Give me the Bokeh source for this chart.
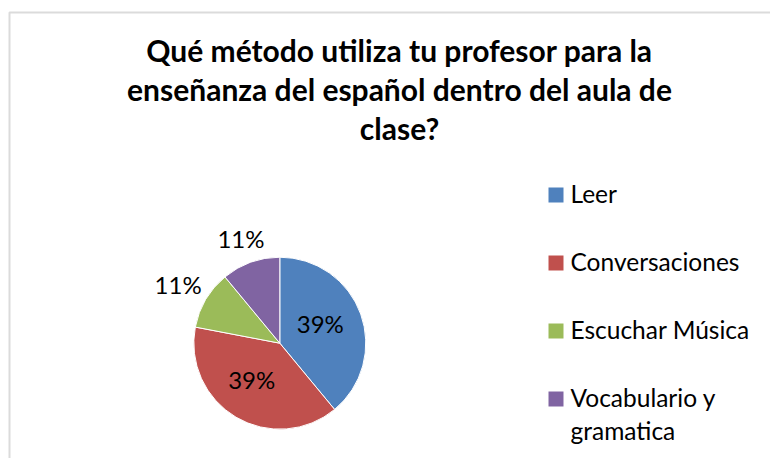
import math
import textwrap
from bokeh.plotting import figure
from bokeh.models import Range1d, BoxAnnotation, ColumnDataSource
from bokeh.core.properties import value
from bokeh.embed import file_html
from bokeh.resources import INLINE

TITLE_LINES = ["Qué método utiliza tu profesor para la",
               "enseñanza del español dentro del aula de",
               "clase?"]
CATEGORIES = ["Leer", "Conversaciones", "Escuchar Música", "Vocabulario y gramatica"]
PERCENTS = [39, 39, 11, 11]
COLORS = ["#4F81BD", "#C0504D", "#9BBB59", "#8064A2"]

FONT = "Lato"
W, H = 770, 458


def Y(yd):
    return H - yd


p = figure(width=W, height=H, x_range=Range1d(0, W), y_range=Range1d(0, H),
           x_axis_type=None, y_axis_type=None, toolbar_location=None,
           output_backend="svg", min_border=0)
p.outline_line_color = None
p.background_fill_color = "white"
p.border_fill_color = "white"

# chart frame (only left and top edges fall inside the picture)
p.add_layout(BoxAnnotation(left=9, right=W + 30, top=Y(12), bottom=-30,
                           fill_alpha=0, line_color="#878787", line_width=2))

# title
p.text(x=[399] * len(TITLE_LINES), y=[Y(49.1 + 39.3 * i) for i in range(len(TITLE_LINES))],
       text=TITLE_LINES, text_font=value(FONT), text_font_style="bold",
       text_font_size="30px", text_align="center", text_baseline="middle",
       text_color="black")

# pie
cx, cy, r = 279.3, Y(342.7), 86
total = float(sum(PERCENTS))
starts, ends, mids = [], [], []
acc = 0.0
for v in PERCENTS:
    a0 = acc / total * 2 * math.pi
    acc += v
    a1 = acc / total * 2 * math.pi
    starts.append(math.pi / 2 - a1)
    ends.append(math.pi / 2 - a0)
    mids.append((a0 + a1) / 2)

src = ColumnDataSource(dict(start=starts, end=ends, color=COLORS, cat=CATEGORIES))
p.wedge(x=cx, y=cy, radius=r, start_angle="start", end_angle="end",
        fill_color="color", line_color="white", line_width=1, source=src)

lx, ly, lt = [], [], []
LW, LH = 45, 18
for v, m in zip(PERCENTS, mids):
    ux, uy = math.sin(m), math.cos(m)
    if v / total >= 0.15:
        d = 0.55 * r
        lx.append(cx + ux * d - 4)
        ly.append(cy + uy * d + 4)
    else:
        d = r + 12
        lx.append(cx + ux * (d + LW / 2) + 2)
        ly.append(cy + uy * (d + LH / 2) + 4)
    lt.append(f"{v}%")
p.text(x=lx, y=ly, text=lt, text_font=value(FONT), text_font_size="24px",
       text_align="center", text_baseline="middle", text_color="black")

# legend
leg_y = [Y(194.5 + 68 * i) for i in range(len(CATEGORIES))]
p.scatter(x=[555.5] * len(CATEGORIES), y=leg_y, marker="square", size=15,
          fill_color=COLORS, line_color=None)
tx, ty, tt = [], [], []
for c, yy in zip(CATEGORIES, leg_y):
    for j, line in enumerate(textwrap.wrap(c, 15)):
        tx.append(570)
        ty.append(yy + 2 - 33 * j)
        tt.append(line)
p.text(x=tx, y=ty, text=tt, text_font=value(FONT), text_font_size="24.5px",
       text_align="left", text_baseline="middle", text_color="black")

open("out.html", "w").write(file_html(p, INLINE))
